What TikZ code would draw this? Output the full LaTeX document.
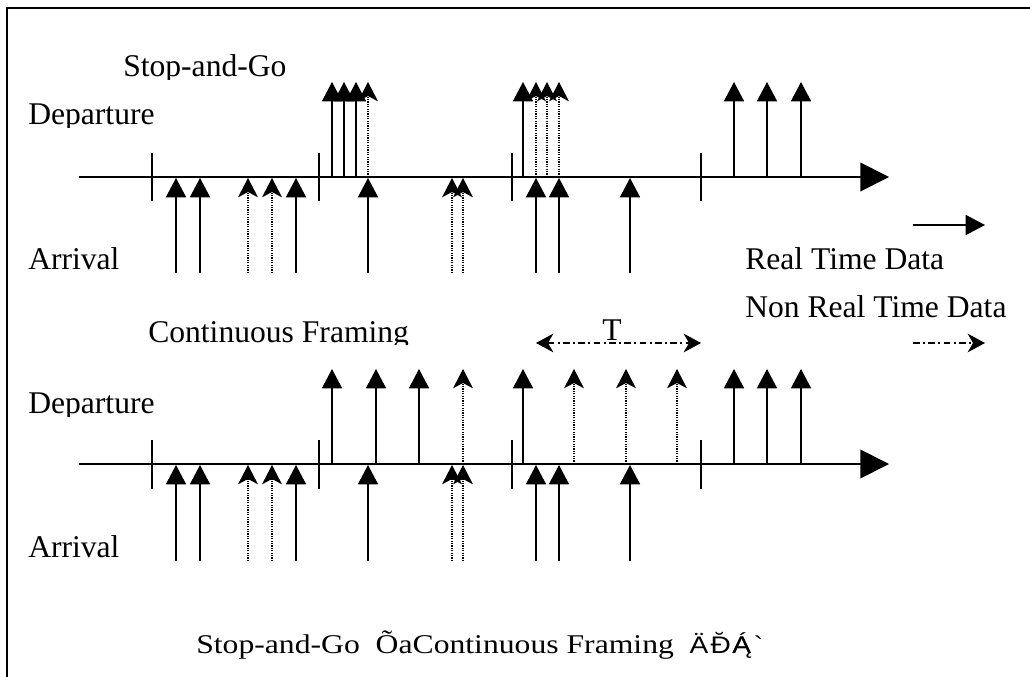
\documentclass[tikz,border=0pt]{standalone}
\usepackage{fontspec}
\setmainfont{Liberation Serif}
\newfontfamily\glyphsans{Liberation Sans}
\usetikzlibrary{arrows.meta}

\begin{document}
\begin{tikzpicture}[x=0.75pt,y=-0.75pt,
  lbl/.style={anchor=base west, inner sep=0pt, font=\fontsize{23.7}{28}\selectfont},
  frameline/.style={line width=1.3pt},
  axisline/.style={line width=1.3pt, -{Triangle[length=21.5pt,width=21.5pt]}},
  tickline/.style={line width=1.1pt},
  rtarrow/.style={line width=1.2pt, -{Triangle[length=14.5pt,width=15pt]}},
  nrtarrow/.style={line width=0.9pt, dash pattern=on 0.9pt off 0.9pt,
    -{Stealth[length=14.5pt,width=15pt,inset=4pt]}},
  dashdot/.style={line width=0.9pt, dash pattern=on 5pt off 2.5pt on 1.5pt off 2.5pt},
  nrthead/.style={-{Stealth[length=13pt,width=14pt,inset=4pt]}},
]
\useasboundingbox (0,0) rectangle (1030,677);

% outer frame (top and left edges)
\coordinate (fbl) at (7,677);
\coordinate (ftl) at (7,8);
\coordinate (ftr) at (1030,8);
\draw[frameline] (fbl) -- (ftl) -- (ftr);

% ---------- Stop-and-Go ----------
\begin{scope}
  \clip (100,40) rectangle (320,80);
  \node[lbl] (sgtitle) at (123,77) {Stop-and-Go};
\end{scope}
\begin{scope}
  \clip (20,95) rectangle (200,128);
  \node[lbl] (sgdep) at (28,125) {Departure};
\end{scope}
\node[lbl] (sgarr) at (28,269) {Arrival};

\coordinate (ax1s) at (79,177);
\coordinate (ax1e) at (889,177);
\draw[axisline] (ax1s) -- (ax1e);

\foreach \x [count=\i] in {152,319,512,701} {
  \coordinate (ta\i) at (\x,153);
  \coordinate (tb\i) at (\x,201);
  \draw[tickline] (ta\i) -- (tb\i);
}

% arrivals
\foreach \x [count=\i] in {176,200,296,368,536,559,630} {
  \coordinate (ua\i) at (\x,273);
  \coordinate (ub\i) at (\x,178);
  \draw[rtarrow] (ua\i) -- (ub\i);
}
\foreach \x [count=\i] in {248,272,452,463} {
  \coordinate (uda\i) at (\x,273);
  \coordinate (udb\i) at (\x,178);
  \draw[nrtarrow] (uda\i) -- (udb\i);
}
% departures
\foreach \x [count=\i] in {332,344,356} {
  \coordinate (ud\i) at (\x,177);
  \coordinate (ue\i) at (\x,82);
  \draw[rtarrow] (ud\i) -- (ue\i);
}
\coordinate (ud4) at (368,177); \coordinate (ue4) at (368,82);
\draw[nrtarrow] (ud4) -- (ue4);
\coordinate (ud5) at (523,177); \coordinate (ue5) at (523,82);
\draw[rtarrow] (ud5) -- (ue5);
\foreach \x [count=\i] in {536,547,559} {
  \coordinate (udd\i) at (\x,177);
  \coordinate (ude\i) at (\x,82);
  \draw[nrtarrow] (udd\i) -- (ude\i);
}
\foreach \x [count=\i] in {734,767,801} {
  \coordinate (uf\i) at (\x,177);
  \coordinate (ug\i) at (\x,82);
  \draw[rtarrow] (uf\i) -- (ug\i);
}

% ---------- legend ----------
\coordinate (lg1s) at (913,225);
\coordinate (lg1e) at (985,225);
\draw[rtarrow] (lg1s) -- (lg1e);
\node[lbl] (lgrt) at (745,269) {Real Time Data};
\node[lbl] (lgnrt) at (745,317) {Non Real Time Data};
\coordinate (lg2s) at (913,343);
\coordinate (lg2e) at (985,343);
\draw[dashdot, nrthead] (lg2s) -- (lg2e);

% ---------- Continuous Framing ----------
\begin{scope}
  \clip (120,300) rectangle (440,344);
  \node[lbl] (cftitle) at (148,342) {Continuous Framing};
\end{scope}
\begin{scope}
  \clip (20,385) rectangle (200,416);
  \node[lbl] (cfdep) at (28,413) {Departure};
\end{scope}
\node[lbl] (cfarr) at (28,557) {Arrival};

% frame period
\coordinate (ps) at (536,343);
\coordinate (pe) at (701,343);
\draw[dashdot, {Stealth[length=13pt,width=14pt,inset=4pt]}-{Stealth[length=13pt,width=14pt,inset=4pt]}] (ps) -- (pe);
\node[lbl, anchor=base] (plbl) at (612,340) {T};

\coordinate (ax2s) at (79,464);
\coordinate (ax2e) at (889,464);
\draw[axisline] (ax2s) -- (ax2e);

\foreach \x [count=\i] in {152,319,512,701} {
  \coordinate (tc\i) at (\x,440);
  \coordinate (td\i) at (\x,489);
  \draw[tickline] (tc\i) -- (td\i);
}

% arrivals
\foreach \x [count=\i] in {176,200,296,368,536,559,630} {
  \coordinate (la\i) at (\x,561);
  \coordinate (lb\i) at (\x,465);
  \draw[rtarrow] (la\i) -- (lb\i);
}
\foreach \x [count=\i] in {248,272,452,463} {
  \coordinate (lda\i) at (\x,561);
  \coordinate (ldb\i) at (\x,465);
  \draw[nrtarrow] (lda\i) -- (ldb\i);
}
% departures
\foreach \x [count=\i] in {332,376,419,523,734,767,801} {
  \coordinate (ld\i) at (\x,464);
  \coordinate (le\i) at (\x,369);
  \draw[rtarrow] (ld\i) -- (le\i);
}
\foreach \x [count=\i] in {463,574,626,677} {
  \coordinate (ldd\i) at (\x,464);
  \coordinate (lde\i) at (\x,369);
  \draw[nrtarrow] (ldd\i) -- (lde\i);
}

% ---------- caption ----------
\node[anchor=base west, inner sep=0pt] (capt) at (196,653)
  {\scalebox{1.17}[1]{\fontsize{20.3}{24}\selectfont Stop-and-Go\ \ ÕaContinuous Framing\ \ %
   {\glyphsans\fontsize{18}{24}\selectfont Ä\kern0.08em\u{Ð}\kern0.05em\rlap{Ą}Á\kern0.1em`}}};

\end{tikzpicture}
\end{document}
